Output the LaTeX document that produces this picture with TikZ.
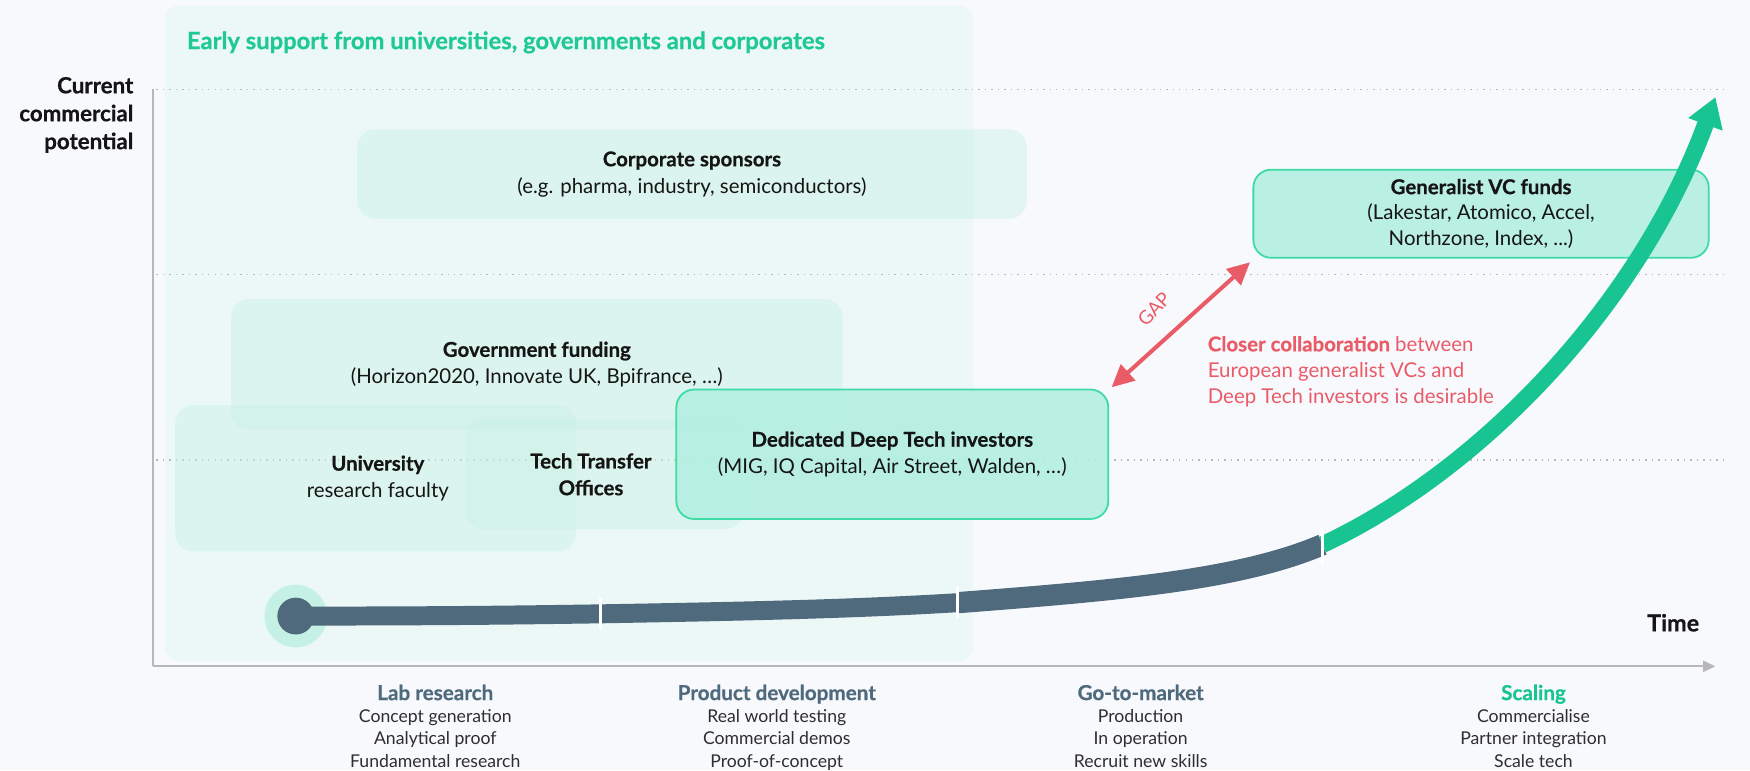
\documentclass[tikz,border=0pt]{standalone}
\usepackage{fontspec}
\setmainfont{Lato}[BoldFeatures={FakeBold=0.6}]
\usetikzlibrary{arrows.meta}
\definecolor{bg}{HTML}{F8F9FC}
\definecolor{panel}{HTML}{EBF8F6}
\definecolor{lightbox}{HTML}{C9F1E6}
\definecolor{strongfill}{HTML}{B4EFE1}
\definecolor{strongline}{HTML}{3DDBA6}
\definecolor{slate}{HTML}{506A7D}
\definecolor{curvegreen}{HTML}{19C493}
\definecolor{titlegreen}{HTML}{1FC996}
\definecolor{gapred}{HTML}{EA5B68}
\definecolor{axisgray}{HTML}{B8B8B8}
\definecolor{txt}{HTML}{151515}
\definecolor{subtxt}{HTML}{2E2E2E}
\tikzset{
  softbox/.style={rounded corners=16pt, fill=lightbox, fill opacity=0.45, text opacity=1, inner sep=0pt, align=center, text=txt},
  strongbox/.style={rounded corners=16pt, fill=strongfill, fill opacity=0.9, draw=strongline, line width=1.6pt, draw opacity=1, text opacity=1, inner sep=0pt, align=center, text=txt},
  boxtext/.style={align=center, text=txt, font=\fontsize{18.3}{24}\selectfont},
  dotline/.style={axisgray, line width=1.3pt, dash pattern=on 1.3pt off 4.5pt},
  phase/.style={align=center, anchor=north, font=\fontsize{15.8}{20}\selectfont, text=subtxt},
  axislabel/.style={font=\fontsize{20}{25}\selectfont\bfseries, text=txt}
}
\begin{document}
\begin{tikzpicture}[x=1pt,y=-1pt]
\fill[bg] (0,0) rectangle (1568,690);
\useasboundingbox (0,0) rectangle (1568,690);

% large panel
\fill[panel, rounded corners=12pt] (148,5) rectangle (872,592);
\node[anchor=west, text=titlegreen, font=\fontsize{21.3}{24}\selectfont\bfseries] (paneltitle) at (164,38) {Early support from universities, governments and corporates};

% dotted guide lines
\coordinate (d1a) at (140,80);  \coordinate (d1b) at (1545,80);
\coordinate (d2a) at (140,246); \coordinate (d2b) at (1545,246);
\coordinate (d3a) at (140,412); \coordinate (d3b) at (1545,412);
\draw[dotline] (d1a) -- (d1b);
\draw[dotline] (d2a) -- (d2b);
\draw[dotline] (d3a) -- (d3b);

% axes
\coordinate (origin) at (137,597);
\coordinate (ytop) at (137,80);
\coordinate (xend) at (1537,597);
\draw[axisgray, line width=1.6pt] (ytop) -- (origin);
\draw[axisgray, line width=1.6pt, -{Triangle[length=11pt,width=10pt]}] (origin) -- (xend);
\node[axislabel, anchor=east, align=right] (ylab) at (123,103) {Current\\commercial\\potential};
\node[axislabel, anchor=east, font=\fontsize{21}{25}\selectfont\bfseries] (xlab) at (1526,558) {Time};

% soft boxes
\node[softbox, minimum width=548pt, minimum height=117pt] (gov) at (481,326.5) {};
\node[softbox, minimum width=359pt, minimum height=131pt] (uni) at (336.5,428.5) {};
\node[softbox, minimum width=249pt, minimum height=98pt] (tto) at (541.5,425) {};
\node[softbox, minimum width=600pt, minimum height=80pt] (corp) at (620,156) {};
\node[boxtext] (govtext) at (gov.center) {\textbf{Government funding}\\(Horizon2020, Innovate UK, Bpifrance, …)};
\node[boxtext] (unitext) at ([xshift=2pt]uni.center) {\textbf{University}\\research faculty};
\node[boxtext] (ttotext) at ([xshift=-12pt]tto.center) {\textbf{Tech Transfer}\\\textbf{Offices}};
\node[boxtext] (corptext) at (corp.center) {\textbf{Corporate sponsors}\\(e.g. pharma, industry, semiconductors)};

% strong boxes
\node[strongbox, boxtext, minimum width=387pt, minimum height=116pt] (deep) at (799.5,407) {\textbf{Dedicated Deep Tech investors}\\(MIG, IQ Capital, Air Street, Walden, …)};
\node[strongbox, font=\fontsize{18.3}{23}\selectfont, minimum width=408pt, minimum height=79pt] (gen) at (1327,191.5) {\textbf{Generalist VC funds}\\(Lakestar, Atomico, Accel,\\Northzone, Index, ...)};

% gap arrow
\coordinate (gapA) at (996,347);
\coordinate (gapB) at (1120,235);
\draw[gapred, line width=3.6pt, {Triangle[length=20pt,width=19pt]}-{Triangle[length=20pt,width=19pt]}] (gapA) -- (gapB);
\node[text=gapred, rotate=47, inner sep=0pt, font=\fontsize{17}{20}\selectfont] (gaplabel) at (1034,277) {GAP};
\node[anchor=north west, align=left, text=gapred, inner sep=0pt, font=\fontsize{18.3}{23.5}\selectfont] (note) at (1082,301) {\textbf{Closer collaboration} between\\European generalist VCs and\\Deep Tech investors is desirable};

% growth curve
\node[circle, fill=curvegreen!25, minimum size=56pt, inner sep=0pt] (startouter) at (265,552) {};
\node[circle, fill=slate, minimum size=33pt, inner sep=0pt] (start) at (265,552) {};
\coordinate (c1) at (538,550);
\coordinate (c2) at (858,540);
\coordinate (c3) at (1185,488);
\coordinate (tip) at (1537,87);
\draw[slate, line width=17pt] (start.center) .. controls (400,552) and (470,551) .. (c1)
   .. controls (650,548) and (760,546) .. (c2);
\draw[slate, line width=19pt] (c2) .. controls (1000,529) and (1110,520) .. (c3);
\draw[curvegreen, line width=15pt, -{Triangle[length=26pt,width=31pt]}] (c3) .. controls (1330,420) and (1470,270) .. (tip);
\draw[white, line width=3pt] ([yshift=-14pt]c1) -- ([yshift=14pt]c1);
\draw[white, line width=3pt] ([yshift=-14pt]c2) -- ([yshift=14pt]c2);
\draw[white, line width=3pt] ([yshift=-16pt]c3) -- ([yshift=16pt]c3);

% phases
\node[phase] (lab) at (390,610) {\textcolor{slate}{\fontsize{18.5}{20}\selectfont\bfseries Lab research}\\Concept generation\\Analytical proof\\Fundamental research};
\node[phase] (prod) at (696,610) {\textcolor{slate}{\fontsize{18.5}{20}\selectfont\bfseries Product development}\\Real world testing\\Commercial demos\\Proof-of-concept};
\node[phase] (gtm) at (1022,610) {\textcolor{slate}{\fontsize{18.5}{20}\selectfont\bfseries Go-to-market}\\Production\\In operation\\Recruit new skills};
\node[phase] (scale) at (1374,610) {\textcolor{curvegreen}{\fontsize{18.5}{20}\selectfont\bfseries Scaling}\\Commercialise\\Partner integration\\Scale tech};
\end{tikzpicture}
\end{document}
